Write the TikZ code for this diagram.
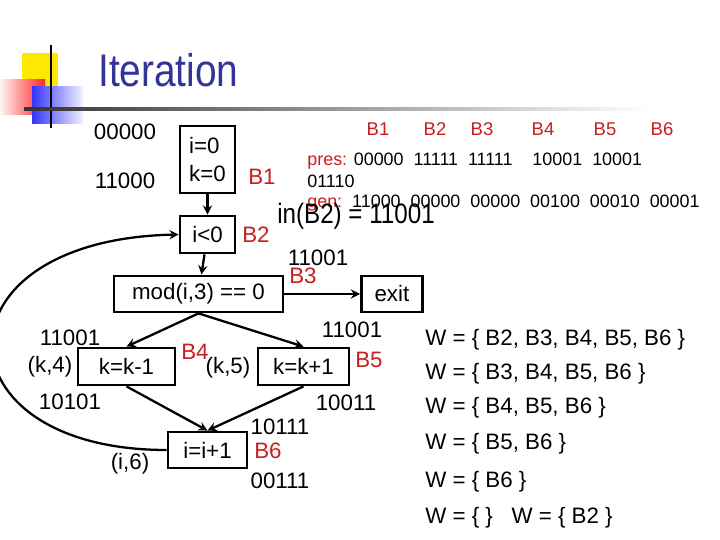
\documentclass[tikz,border=0pt]{standalone}
\usepackage{fontspec}
\setmainfont{Liberation Sans}
\usetikzlibrary{positioning}
\definecolor{titleblue}{RGB}{51,51,153}
\definecolor{blockred}{RGB}{200,30,30}
\begin{document}
\begin{tikzpicture}[x=0.02cm,y=-0.02cm,
  blk/.style={draw,line width=1.6pt,inner sep=2pt,font=\fontsize{12.7}{16}\selectfont},
  lbl/.style={font=\fontsize{12.7}{15}\selectfont,inner sep=0pt},
  red/.style={lbl,text=blockred},
  small/.style={font=\fontsize{10.2}{12}\selectfont,inner sep=0pt,anchor=west},
  arr/.style={->,>=stealth,line width=1.3pt}]
\useasboundingbox (0,0) rectangle (720,540);

% Title decoration
\fill[yellow!90!orange] (22,53) rectangle (58,87);
\shade[left color=red!5,right color=red!85] (0,80) rectangle (45,115);
\shade[left color=blue!80,right color=blue!5] (32,87) rectangle (83,124);
\draw[line width=1.3pt] (51,45) -- (51,128);
\shade[left color=black!80,right color=white] (24,108) rectangle (650,111);
\node[font=\fontsize{26}{30}\selectfont,text=titleblue,anchor=west,inner sep=0pt,xscale=0.85] (title) at (98,70) {Iteration};

% Blocks
\node[blk,align=left,minimum width=1.1cm,minimum height=1.34cm] (b1) at (207.5,159.5) {i=0\\k=0};
\node[blk,minimum width=1.1cm,minimum height=0.74cm] (b2) at (207.5,234.5) {i<0};
\node[blk,minimum width=3.38cm,minimum height=0.72cm] (b3) at (198.5,294) {mod(i,3) == 0};
\node[blk,minimum width=1.22cm,minimum height=0.72cm,anchor=west] (exit) at (360,294) {exit};
\node[blk,minimum width=1.94cm,minimum height=0.74cm] (b4) at (126.5,366.5) {k=k-1};
\node[blk,minimum width=1.82cm,minimum height=0.74cm] (b5) at (303.5,366.5) {k=k+1};
\node[blk,minimum width=1.58cm,minimum height=0.72cm] (b6) at (207.5,450) {i=i+1};

% Edges
\draw[arr] (b1) -- (b2);
\draw[arr] (b2) -- (b3);
\draw[arr] (b3) -- (exit);
\draw[arr] (b3.south) -- (b4.north);
\draw[arr] (b3.south) -- (b5.north);
\draw[arr] (b4.south) -- (b6.north);
\draw[arr] (b5.south) -- (b6.north);
\draw[arr] (b6.west) .. controls (-65,450) and (-70,240) .. (b2.west);

% Block labels
\node[red] (l1) at (262,177) {B1};
\node[red] (l2) at (256,235) {B2};
\node[red] (l3) at (303,276) {B3};
\node[red] (l4) at (195,352) {B4};
\node[red] (l5) at (369,360) {B5};
\node[red] (l6) at (268,451) {B6};

% Bit vectors
\node[lbl] (v0) at (125,132) {00000};
\node[lbl] (v1) at (125,181) {11000};
\node[lbl] (v3) at (318,258) {11001};
\node[lbl] (v4a) at (70,338) {11001};
\node[lbl] (v4b) at (70,402) {10101};
\node[lbl] (v5a) at (352,330) {11001};
\node[lbl] (v5b) at (346,403) {10011};
\node[lbl] (v6a) at (280,427) {10111};
\node[lbl] (v6b) at (280,481) {00111};
\node[lbl] (k4) at (50,367) {(k,4)};
\node[lbl] (k5) at (228,368) {(k,5)};
\node[lbl] (i6) at (130,464) {(i,6)};

% Table
\foreach \n/\x in {1/378,2/435,3/482,4/543,5/605,6/662}
  \node[font=\fontsize{10.5}{12}\selectfont,text=blockred,inner sep=0pt] (h\n) at (\x,129) {B\n};
\node[small] (pres) at (307,161) {\textcolor{blockred}{pres:} 00000\ \ 11111\ \ 11111\ \ \ \ 10001\ \ 10001};
\node[small] (pres2) at (307,181) {01110};
\node[small] (gen) at (307,203) {\textcolor{blockred}{gen:}\ \ 11000\ \ 00000\ \ 00000\ \ 00100\ \ 00010\ \ 00001};
\node[font=\fontsize{16}{18}\selectfont,inner sep=0pt,anchor=west,xscale=0.86] (inb2) at (277,216) {in(B2) = 11001};

% Worklist
\foreach \t/\y in {{W = \{ B2, B3, B4, B5, B6 \}}/340,{W = \{ B3, B4, B5, B6 \}}/374,{W = \{ B4, B5, B6 \}}/408,{W = \{ B5, B6 \}}/444,{W = \{ B6 \}}/482,{W = \{ \}\ \ \ W = \{ B2 \}}/518}
  \node[lbl,anchor=west] at (425,\y) {\t};
\end{tikzpicture}
\end{document}
